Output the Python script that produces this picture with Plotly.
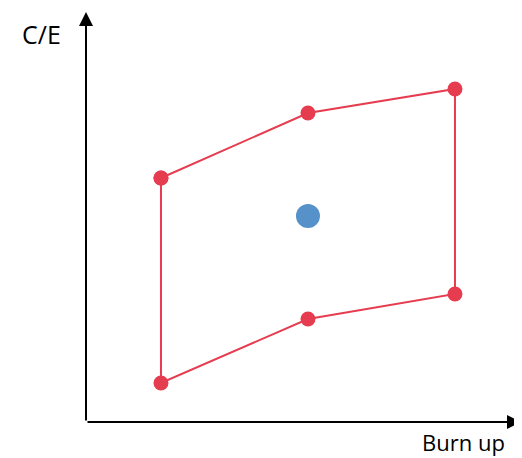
import plotly.graph_objects as go

# envelope of C/E values vs burn up (closed loop)
burnup = [1, 2, 3, 3, 2, 1, 1]
ce = [1.038, 1.103, 1.127, 0.922, 0.897, 0.833, 1.038]

# nominal point
burnup_c = [2]
ce_c = [1.0]

red = '#E63C4F'
blue = '#5692C9'

fig = go.Figure()
fig.add_trace(go.Scatter(x=burnup, y=ce, mode='lines+markers',
                         line=dict(color=red, width=2),
                         marker=dict(color=red, size=15)))
fig.add_trace(go.Scatter(x=burnup_c, y=ce_c, mode='markers',
                         marker=dict(color=blue, size=24)))

axis_style = dict(showgrid=False, zeroline=False, showticklabels=False,
                  showline=False, ticks='', fixedrange=True)

# page body has an 8px margin, so the figure is 8px smaller each way
fig.update_layout(
    width=514, height=450,
    margin=dict(l=78, r=0, t=0, b=36),
    paper_bgcolor='white', plot_bgcolor='white',
    showlegend=False,
    xaxis=dict(range=[0.49, 3.456], **axis_style),
    yaxis=dict(range=[0.794, 1.208], **axis_style),
    font=dict(family='Open Sans', color='black'),
    annotations=[
        # axes arrows
        dict(x=0, y=0.9903, xref='paper', yref='paper', ax=0, ay=410,
             showarrow=True, arrowhead=2, arrowsize=1.4, arrowwidth=2,
             arrowcolor='black', text=''),
        dict(x=0.9977, y=0, xref='paper', yref='paper', ax=-435, ay=0,
             showarrow=True, arrowhead=2, arrowsize=1.4, arrowwidth=2,
             arrowcolor='black', text=''),
        dict(x=-0.103, y=0.937, xref='paper', yref='paper', text='C/E',
             xanchor='center', yanchor='middle',
             showarrow=False, font=dict(size=25)),
        dict(x=0.865, y=-0.0483, xref='paper', yref='paper', text='Burn up',
             xanchor='center', yanchor='middle', borderpad=0,
             showarrow=False, font=dict(size=22)),
    ],
)

fig.write_html("out.html")
